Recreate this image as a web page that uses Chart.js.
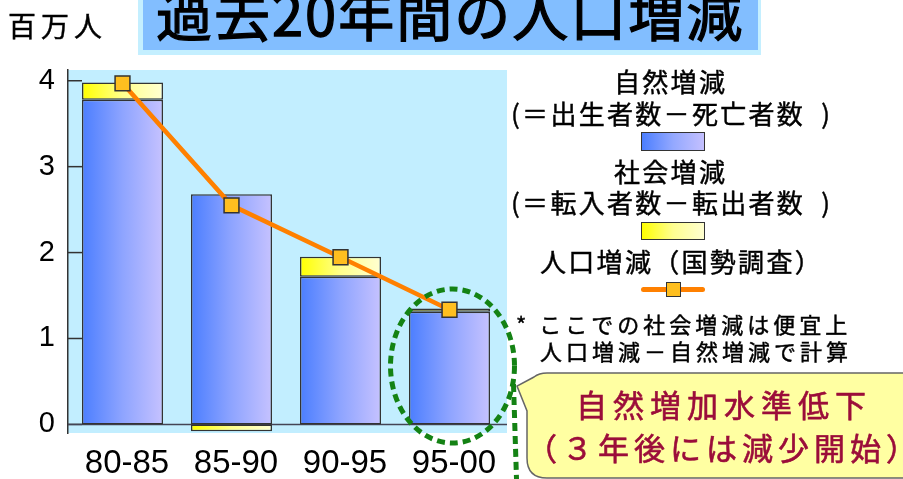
<!DOCTYPE html>
<html lang="ja">
<head>
<meta charset="utf-8">
<title>過去20年間の人口増減</title>
<script src="https://cdn.jsdelivr.net/npm/chart.js@4.4.1/dist/chart.umd.min.js"></script>
<style>
body { margin: 0; background: #fff; }
#wrap { position: relative; width: 903px; height: 479px; overflow: hidden; font-family: "Noto Sans CJK JP", sans-serif; }
#mycanvas { position: absolute; left: 0; top: 0; }
.t { position: absolute; white-space: pre; color: #000; }
.sw { position: absolute; box-sizing: border-box; border: 1.5px solid #333; }
#bubble { position: absolute; left: 0; top: 0; }
</style>
</head>
<body>
<div id="wrap">
  <div style="position:absolute;left:138px;top:-5px;width:623px;height:60px;background:#C4EFFF;"></div>
  <div style="position:absolute;left:143px;top:-5px;width:615px;height:55px;background:#82BEFF;"></div>
  <canvas id="mycanvas" width="903" height="479"></canvas>
  <svg id="bubble" width="903" height="479">
    <path d="M547 373 H930 V478 H547 Q527 478 527 458 V411 L517 386 L534 377 Q539 373 547 373 Z" fill="#FFFFA2" stroke="#666" stroke-width="1.5"/>
  </svg>
  <div class="sw" style="left:641px;top:132px;width:64px;height:19px;background:linear-gradient(to right,#4B7EFF,#93A8FF,#C4C0FF);"></div>
  <div class="sw" style="left:641px;top:222px;width:64px;height:18px;background:linear-gradient(to right,#FFFF00,#FFFF90,#FFFFD0);"></div>
  <div style="position:absolute;left:641px;top:286.5px;width:64px;height:5px;border-radius:3px;background:#FF8000;"></div>
  <div class="sw" style="left:666px;top:282px;width:15px;height:15px;background:#FFBF1F;"></div>
</div>
<script>
var categories = ['80-85', '85-90', '90-95', '95-00'];
var naturalChange = [3.78, 2.68, 1.72, 1.31];   // 自然増減
var socialChange = [0.20, -0.08, 0.23, 0.04];   // 社会増減
var totalChange = [3.97, 2.55, 1.945, 1.335];   // 人口増減 (国勢調査)
var yTicks = [0, 1, 2, 3, 4];

var wrap = document.getElementById('wrap');

function addText(txt, x, cy, size, spacing, color, stroke) {
  var d = document.createElement('div');
  var h = Math.round(size * 1.4);
  d.className = 't';
  d.textContent = txt;
  d.style.fontSize = size + 'px';
  d.style.lineHeight = h + 'px';
  d.style.height = h + 'px';
  d.style.letterSpacing = spacing + 'px';
  d.style.color = color || '#000';
  d.style.webkitTextStroke = (stroke || 0.45) + 'px ' + (color || '#000');
  d.style.top = (cy - h / 2 - size * 0.056) + 'px';
  d.style.left = x + 'px';
  wrap.appendChild(d);
}

addText('百万人', 8, 27.5, 28, 5);
addText('過去20年間の人口増減', 156, 15.5, 56, 2, '#000', 1.3);

addText('自然増減', 614, 82, 26, 2.3);
addText('(＝出生者数－死亡者数  )', 511, 114, 26, 2.3);
addText('社会増減', 614, 172, 26, 2.3);
addText('(＝転入者数－転出者数  )', 511, 203.5, 26, 2.3);
addText('人口増減（国勢調査）', 540, 262.5, 26, 2.3);

addText('* ここでの社会増減は便宜上', 516, 325, 22, 4);
addText('人口増減－自然増減で計算', 540, 352, 22, 4);

addText('自然増加水準低下', 576, 405, 31, 6, '#9B0D3A', 0.6);
addText('（３年後には減少開始）', 526, 448, 31, 5, '#9B0D3A', 0.6);

function barFill(c0, c1, c2) {
  return function(c) {
    var chart = c.chart;
    if (!chart.chartArea || c.type !== 'data') return c0;
    var xs = chart.scales.x;
    var cx = xs.getPixelForValue(c.dataIndex);
    var half = xs.width / categories.length * 0.743 / 2;
    var g = chart.ctx.createLinearGradient(cx - half, 0, cx + half, 0);
    g.addColorStop(0, c0);
    g.addColorStop(0.5, c1);
    g.addColorStop(1, c2);
    return g;
  };
}

var decor = {
  id: 'decor',
  beforeDraw: function(chart) {
    var a = chart.chartArea, ctx = chart.ctx;
    ctx.save();
    ctx.fillStyle = '#C2EEFF';
    ctx.fillRect(a.left, a.top, a.right - a.left + 3, a.bottom - a.top);
    ctx.restore();
  },
  beforeDatasetsDraw: function(chart) {
    var a = chart.chartArea, ctx = chart.ctx, ys = chart.scales.y;
    ctx.save();
    ctx.strokeStyle = '#333';
    ctx.lineWidth = 1.5;
    yTicks.forEach(function(v) {
      var py = ys.getPixelForValue(v);
      ctx.beginPath();
      ctx.moveTo(a.left, py);
      ctx.lineTo(a.left + 14, py);
      ctx.stroke();
    });
    var p0 = ys.getPixelForValue(0);
    ctx.strokeStyle = '#445';
    ctx.beginPath();
    ctx.moveTo(a.left, p0);
    ctx.lineTo(a.right + 3, p0);
    ctx.stroke();
    ctx.restore();
  },
  afterDraw: function(chart) {
    var ctx = chart.ctx, xs = chart.scales.x, ys = chart.scales.y;
    var ex = xs.getPixelForValue(3) + 3, ey = ys.getPixelForValue(0.68);
    ctx.save();
    ctx.strokeStyle = '#148214';
    ctx.lineWidth = 5;
    ctx.setLineDash([8, 5]);
    ctx.beginPath();
    ctx.ellipse(ex, ey, 62, 77, 0, 0, Math.PI * 2);
    ctx.stroke();
    ctx.beginPath();
    ctx.moveTo(ex + 61, ey + 18);
    ctx.lineTo(ex + 64, chart.height);
    ctx.stroke();
    ctx.restore();
  }
};

var chartdata = {
  labels: categories,
  datasets: [
    {
      type: 'line',
      label: '人口増減 (国勢調査)',
      data: totalChange,
      stack: 'total',
      order: 0,
      borderColor: '#FF8000',
      borderWidth: 4.5,
      tension: 0,
      pointStyle: 'rect',
      pointRadius: 10.5,
      pointBackgroundColor: '#FFBF1F',
      pointBorderColor: '#333',
      pointBorderWidth: 1.5
    },
    {
      label: '自然増減',
      data: naturalChange,
      order: 1,
      backgroundColor: barFill('#4B7EFF', '#8EA4FF', '#C6C2FF'),
      borderColor: '#333',
      borderWidth: 1.5,
      borderSkipped: false,
      barPercentage: 0.743,
      categoryPercentage: 1
    },
    {
      label: '社会増減',
      data: socialChange,
      order: 2,
      backgroundColor: barFill('#FFFF00', '#FFFF8C', '#FFFFD2'),
      borderColor: '#333',
      borderWidth: 1.5,
      borderSkipped: false,
      barPercentage: 0.743,
      categoryPercentage: 1
    }
  ]
};

var ctx = document.getElementById('mycanvas');
var BarGraph = new Chart(ctx, {
  type: 'bar',
  data: chartdata,
  plugins: [decor],
  options: {
    responsive: false,
    animation: false,
    layout: { padding: { top: 70, right: 399, left: 0, bottom: 0 } },
    plugins: {
      legend: { display: false },
      tooltip: { enabled: false },
      title: { display: false }
    },
    scales: {
      x: {
        stacked: true,
        grid: { display: false, drawTicks: false },
        border: { display: false },
        ticks: { color: '#000', font: { family: 'Liberation Sans', size: 33 }, padding: 11, labelOffset: 4.5, maxRotation: 0, autoSkip: false },
        afterFit: function(s) { s.height = 46; }
      },
      y: {
        stacked: true,
        min: -0.1,
        max: 4.125,
        afterBuildTicks: function(s) { s.ticks = yTicks.map(function(v) { return { value: v }; }); },
        grid: { display: false, drawTicks: false },
        border: { display: true, color: '#333', width: 1.5 },
        ticks: { color: '#000', font: { family: 'Liberation Sans', size: 29 }, padding: 13 },
        afterFit: function(s) { s.width = 68; }
      }
    }
  }
});
</script>
</body>
</html>
